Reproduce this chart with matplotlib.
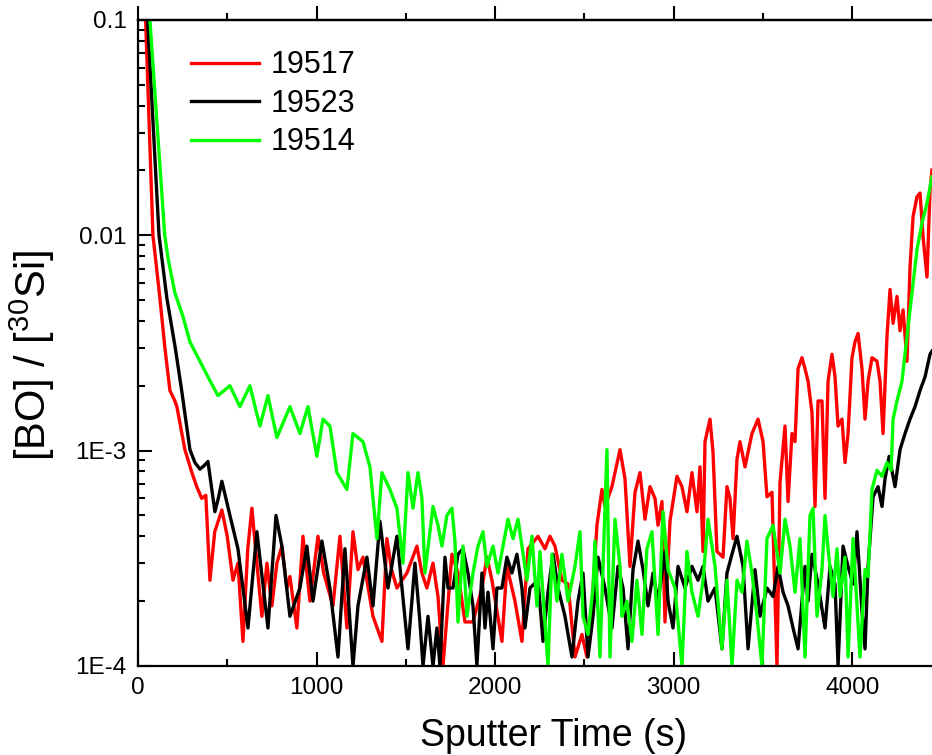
import matplotlib
matplotlib.use("Agg")
import matplotlib.pyplot as plt
from matplotlib.ticker import LogLocator, FixedLocator, FixedFormatter, MultipleLocator, NullFormatter

plt.rcParams['font.family'] = ['Liberation Sans', 'DejaVu Sans']
plt.rcParams['mathtext.fontset'] = 'custom'
plt.rcParams['mathtext.rm'] = 'Liberation Sans'
plt.rcParams['mathtext.it'] = 'Liberation Sans'

# 19517 (red)
t_19517 = [10, 43, 84, 123, 151, 179, 207, 218, 263, 300, 329, 357, 380, 403, 430, 470, 500, 532,
           560, 588, 615, 638, 666, 694, 722, 750, 778, 806, 834, 851, 890, 924, 963, 1008, 1040,
           1092, 1131, 1170, 1204, 1232, 1260, 1316, 1366, 1394, 1420, 1450, 1506, 1562, 1590,
           1618, 1652, 1680, 1708, 1730, 1758, 1792, 1831, 1876, 1926, 1954, 1982, 2038, 2066,
           2111, 2150, 2184, 2240, 2279, 2307, 2335, 2374, 2408, 2447, 2486, 2514, 2542, 2570,
           2598, 2615, 2654, 2671, 2699, 2727, 2755, 2783, 2811, 2839, 2867, 2895, 2912, 2934,
           2951, 2979, 3018, 3046, 3074, 3102, 3130, 3147, 3164, 3175, 3203, 3220, 3242, 3276,
           3298, 3315, 3332, 3354, 3371, 3399, 3438, 3472, 3500, 3522, 3550, 3578, 3595, 3623,
           3640, 3662, 3679, 3696, 3718, 3735, 3752, 3774, 3791, 3808, 3830, 3847, 3864, 3886,
           3903, 3920, 3942, 3959, 3976, 3998, 4015, 4032, 4054, 4071, 4088, 4110, 4138, 4155,
           4172, 4194, 4211, 4228, 4250, 4267, 4284, 4306, 4323, 4340, 4362, 4379, 4396, 4418,
           4435, 4446]
bo_19517 = [0.4, 0.1, 0.01, 0.0051, 0.0030, 0.0019, 0.0017, 0.0016, 0.00101, 0.0008, 0.00068,
            0.0006, 0.00062, 0.00025, 0.00042, 0.00053, 0.00040, 0.00025, 0.00030, 0.00013,
            0.00035, 0.00054, 0.00030, 0.00017, 0.00030, 0.00019, 0.00030, 0.00036, 0.00023,
            0.00026, 0.00015, 0.00040, 0.00020, 0.00040, 0.00027, 0.00019, 0.00040, 0.00015,
            0.00042, 0.00028, 0.00032, 0.00017, 0.00013, 0.00039, 0.00028, 0.00023, 0.00027,
            0.00036, 0.00027, 0.00023, 0.00030, 0.00021, 0.00010, 0.00017, 0.00033, 0.00027,
            0.00016, 0.00016, 0.00023, 0.00032, 0.00025, 0.00013, 0.00029, 0.00020, 0.00013,
            0.00035, 0.00040, 0.00035, 0.00040, 0.00036, 0.00025, 0.00024, 0.00011, 0.00014,
            0.00011, 0.00019, 0.00045, 0.00066, 0.00055, 0.00068, 0.00079, 0.00101, 0.00074,
            0.00029, 0.00064, 0.00079, 0.00048, 0.00068, 0.00060, 0.00045, 0.00058, 0.00016,
            0.00047, 0.00076, 0.00068, 0.00052, 0.00079, 0.00052, 0.00084, 0.00034, 0.0011,
            0.0014, 0.00098, 0.00034, 0.00032, 0.00068, 0.00060, 0.00039, 0.00091, 0.0011,
            0.00084, 0.0012, 0.0014, 0.0011, 0.00061, 0.00064, 0.00010, 0.00071, 0.0013,
            0.00058, 0.0012, 0.0011, 0.0024, 0.0027, 0.0024, 0.0021, 0.0015, 0.00055, 0.0017,
            0.0017, 0.0006, 0.0021, 0.0028, 0.0022, 0.0013, 0.0014, 0.00088, 0.0012, 0.0027,
            0.0032, 0.0035, 0.0024, 0.0014, 0.0021, 0.0027, 0.0026, 0.0021, 0.0012, 0.0034,
            0.0056, 0.0039, 0.0052, 0.0036, 0.0045, 0.0026, 0.0071, 0.0122, 0.0151, 0.0157,
            0.0098, 0.0064, 0.0162, 0.0201]

# 19523 (black)
t_19523 = [10, 54, 118, 162, 209, 245, 291, 319, 347, 370, 392, 431, 450, 470, 515, 560, 616, 666,
           728, 773, 806, 851, 907, 946, 980, 1030, 1075, 1120, 1159, 1204, 1232, 1282, 1316,
           1355, 1400, 1450, 1512, 1551, 1579, 1596, 1624, 1652, 1674, 1691, 1719, 1736, 1764,
           1792, 1820, 1848, 1876, 1898, 1926, 1943, 1960, 1988, 2010, 2038, 2066, 2094, 2122,
           2150, 2167, 2195, 2240, 2268, 2296, 2324, 2352, 2391, 2430, 2464, 2492, 2520, 2548,
           2576, 2615, 2654, 2688, 2716, 2744, 2772, 2800, 2828, 2856, 2884, 2912, 2951, 2968,
           2996, 3024, 3063, 3102, 3136, 3164, 3192, 3231, 3270, 3298, 3326, 3354, 3388, 3416,
           3455, 3483, 3522, 3556, 3584, 3612, 3640, 3668, 3696, 3718, 3735, 3752, 3774, 3808,
           3847, 3875, 3903, 3920, 3948, 3976, 4004, 4026, 4054, 4071, 4088, 4116, 4144, 4166,
           4183, 4206, 4239, 4267, 4295, 4323, 4351, 4379, 4407, 4435, 4446]
bo_19523 = [0.4, 0.1, 0.01, 0.0051, 0.0030, 0.0019, 0.00101, 0.00088, 0.00082, 0.00085, 0.00089,
            0.00052, 0.00060, 0.00072, 0.00050, 0.00035, 0.00015, 0.00042, 0.00015, 0.00050,
            0.00036, 0.00017, 0.00023, 0.00036, 0.00020, 0.00038, 0.00023, 0.00011, 0.00035,
            0.00010, 0.00019, 0.00032, 0.00019, 0.00047, 0.00023, 0.00040, 0.00012, 0.00030,
            0.00016, 0.00010, 0.00017, 0.00010, 0.00015, 0.00010, 0.00032, 0.00023, 0.00023,
            0.00033, 0.00035, 0.00027, 0.00019, 0.00010, 0.00027, 0.00015, 0.00022, 0.00012,
            0.00023, 0.00023, 0.00032, 0.00027, 0.00033, 0.00023, 0.00015, 0.00023, 0.00025,
            0.00013, 0.00022, 0.00033, 0.00023, 0.00017, 0.00011, 0.00020, 0.00027, 0.00011,
            0.00017, 0.00032, 0.00023, 0.00015, 0.00029, 0.00023, 0.00012, 0.00028, 0.00038,
            0.00028, 0.00019, 0.00027, 0.00020, 0.00034, 0.00020, 0.00015, 0.00029, 0.00023,
            0.00029, 0.00025, 0.00029, 0.00020, 0.00023, 0.00012, 0.00027, 0.00033, 0.00040,
            0.00029, 0.00012, 0.00028, 0.00017, 0.00023, 0.00021, 0.00029, 0.00022, 0.00019,
            0.00015, 0.00012, 0.00020, 0.00029, 0.00020, 0.00033, 0.00024, 0.00015, 0.00029,
            0.00024, 0.00010, 0.00036, 0.00029, 0.00024, 0.00042, 0.00018, 0.00012, 0.00029,
            0.00061, 0.00068, 0.00055, 0.00074, 0.00094, 0.00068, 0.00101, 0.0012, 0.0014,
            0.0016, 0.0019, 0.0022, 0.0028, 0.0029]

# 19514 (green)
t_19514 = [20, 67, 150, 170, 207, 252, 291, 347, 392, 448, 515, 571, 627, 683, 728, 778, 851, 907,
           952, 1002, 1036, 1075, 1114, 1170, 1204, 1260, 1299, 1338, 1366, 1411, 1450, 1484,
           1512, 1540, 1568, 1590, 1607, 1635, 1652, 1680, 1702, 1730, 1758, 1775, 1792, 1820,
           1842, 1876, 1904, 1932, 1954, 1988, 2016, 2044, 2072, 2100, 2128, 2150, 2178, 2206,
           2234, 2251, 2296, 2318, 2346, 2374, 2408, 2447, 2475, 2492, 2520, 2548, 2559, 2587,
           2626, 2643, 2671, 2699, 2710, 2738, 2766, 2794, 2822, 2850, 2878, 2912, 2940, 2968,
           3007, 3046, 3074, 3102, 3136, 3164, 3192, 3231, 3270, 3298, 3326, 3354, 3382, 3410,
           3438, 3466, 3494, 3522, 3556, 3595, 3623, 3651, 3679, 3707, 3735, 3763, 3780, 3802,
           3830, 3847, 3864, 3892, 3914, 3931, 3959, 3976, 4004, 4026, 4043, 4071, 4088, 4110,
           4138, 4166, 4194, 4217, 4228, 4250, 4278, 4306, 4334, 4362, 4390, 4418, 4446]
bo_19514 = [0.4, 0.1, 0.01, 0.0077, 0.0054, 0.0042, 0.0032, 0.0026, 0.0022, 0.0018, 0.0020,
            0.0016, 0.0020, 0.0013, 0.0018, 0.00115, 0.0016, 0.0012, 0.0016, 0.00094, 0.0014,
            0.0013, 0.00079, 0.00066, 0.0012, 0.0011, 0.00084, 0.00039, 0.00079, 0.00066,
            0.00054, 0.00030, 0.00079, 0.00054, 0.00079, 0.00060, 0.00027, 0.00042, 0.00055,
            0.00045, 0.00036, 0.00050, 0.00054, 0.00038, 0.00016, 0.00036, 0.00017, 0.00027,
            0.00036, 0.00042, 0.00029, 0.00036, 0.00027, 0.00036, 0.00048, 0.00039, 0.00048,
            0.00036, 0.00025, 0.00040, 0.00019, 0.00034, 0.00010, 0.00033, 0.00020, 0.00033,
            0.00020, 0.00029, 0.00042, 0.00017, 0.00014, 0.00023, 0.00038, 0.00011, 0.00101,
            0.00011, 0.00048, 0.00029, 0.00017, 0.00020, 0.00013, 0.00025, 0.00014, 0.00035,
            0.00042, 0.00014, 0.00052, 0.00028, 0.00023, 0.00010, 0.00034, 0.00022, 0.00017,
            0.00025, 0.00048, 0.00029, 0.00012, 0.00025, 0.00010, 0.00025, 0.00022, 0.00038,
            0.00027, 0.00017, 0.00010, 0.00039, 0.00045, 0.00027, 0.00048, 0.00036, 0.00022,
            0.00039, 0.00011, 0.00050, 0.00054, 0.00017, 0.00028, 0.00050, 0.00035, 0.00021,
            0.00035, 0.00021, 0.00032, 0.00011, 0.00039, 0.00019, 0.00011, 0.00028, 0.00026,
            0.00066, 0.00081, 0.00076, 0.00088, 0.00081, 0.0014, 0.0017, 0.0021, 0.0034,
            0.0054, 0.0086, 0.0114, 0.0141, 0.0187]

fig = plt.figure(figsize=(9.32, 7.55), dpi=100)
ax = fig.add_axes([0.148, 0.118, 0.852, 0.8556])

ax.plot(t_19517, bo_19517, color='#ff0000', lw=2.4, label='19517')
ax.plot(t_19523, bo_19523, color='#000000', lw=2.4, label='19523')
ax.plot(t_19514, bo_19514, color='#00ff00', lw=2.4, label='19514')

ax.set_yscale('log')
ax.set_xlim(0, 4446)
ax.set_ylim(1e-4, 0.1)

# y ticks
ax.yaxis.set_major_locator(FixedLocator([1e-4, 1e-3, 1e-2, 1e-1]))
ax.yaxis.set_major_formatter(FixedFormatter(['1E-4', '1E-3', '0.01', '0.1']))
ax.yaxis.set_minor_locator(LogLocator(base=10, subs=range(2, 10)))
ax.yaxis.set_minor_formatter(NullFormatter())

# x ticks
ax.xaxis.set_major_locator(MultipleLocator(1000))
ax.xaxis.set_minor_locator(MultipleLocator(500))

ax.tick_params(axis='both', which='major', direction='in', length=10, width=1.5,
               labelsize=17.5, pad=8)
ax.tick_params(axis='both', which='minor', direction='in', length=5, width=1.5)
ax.tick_params(axis='y', which='both', right=False)

for s in ['left', 'bottom', 'top']:
    ax.spines[s].set_linewidth(1.6)
ax.spines['right'].set_visible(False)

# top axis with outward ticks
top = ax.secondary_xaxis('top')
top.xaxis.set_major_locator(MultipleLocator(1000))
top.xaxis.set_minor_locator(MultipleLocator(500))
top.tick_params(which='major', direction='out', length=10, width=1.5, labeltop=False)
top.tick_params(which='minor', direction='out', length=5, width=1.5)
top.spines['top'].set_linewidth(1.6)

ax.set_xlabel('Sputter Time (s)', fontsize=27)
ax.xaxis.set_label_coords(0.524, -0.081)
ax.set_ylabel('[BO] / [$^{30}$Si]', fontsize=30)
ax.yaxis.set_label_coords(-0.102, 0.48)

ax.legend(loc='upper left', bbox_to_anchor=(0.052, 0.972), frameon=False, fontsize=22,
          handlelength=2.2, handletextpad=0.4, labelspacing=0.28, borderaxespad=0)

fig.savefig('out.png', dpi=100)
